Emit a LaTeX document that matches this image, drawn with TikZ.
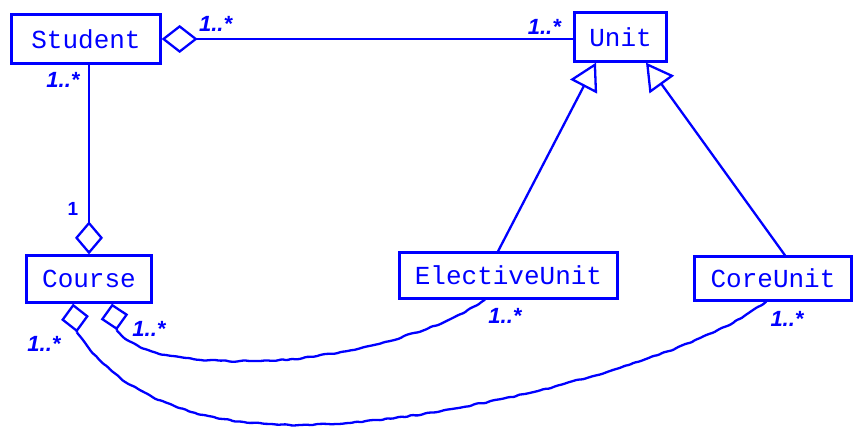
\documentclass[tikz,border=0pt]{standalone}
\usepackage{fontspec}
\newfontfamily\classfont{Liberation Mono}
\newfontfamily\multfont{Liberation Sans}
\usepackage{tikz}
\usetikzlibrary{arrows.meta,calc,decorations.pathmorphing}

\begin{document}
\begin{tikzpicture}[x=1pt,y=1pt,
    umlblue/.style={draw=blue,line width=2.3pt},
    class/.style={umlblue,text=blue,inner sep=0pt,font=\classfont\fontsize{26}{30}\selectfont},
    mult/.style={text=blue,inner sep=0pt,font=\multfont\bfseries\itshape\fontsize{22}{26}\selectfont},
    agg/.style={umlblue,{Diamond[open,length=#1,width=28pt]}-},
    agg/.default=36pt,
    gen/.style={umlblue,-{Triangle[open,length=27pt,width=30pt]}},
    wobbly/.style={umlblue,decorate,decoration={random steps,segment length=5pt,amplitude=0.8pt},rounded corners=1.5pt}]
    \useasboundingbox (0,0) rectangle (853,427);
    \pgfmathsetseed{7}

    % classes
    \node[class,minimum width=149pt,minimum height=49pt] (student) at (86,388) {Student};
    \node[class,minimum width=92pt,minimum height=49pt] (unit) at (620.5,390) {Unit};
    \node[class,minimum width=125pt,minimum height=47pt] (course) at (89,148) {Course};
    \node[class,minimum width=218pt,minimum height=46pt] (elective) at (508.5,151.5) {ElectiveUnit};
    \node[class,minimum width=157pt,minimum height=44pt] (core) at (773,148.5) {CoreUnit};

    % associations
    \draw[agg] (student.east) -- (student.east -| unit.west);
    \draw[agg=33pt] (course.north) -- (course.north |- student.south);
    \draw[gen] ($ (elective.north) + (-10.5,0) $) -- ($ (unit.south) + (-24.5,0) $);
    \draw[gen] ($ (core.north) + (12,0) $) -- ($ (unit.south) + (25.5,0) $);

    \coordinate (cl) at ($ (course.south) + (-16,0) $);
    \coordinate (cr) at ($ (course.south) + (23,0) $);
    \draw[agg=29pt] (cl) -- ++(4,-29) coordinate (clend);
    \draw[agg=27pt] (cr) -- ++(5,-27) coordinate (crend);
    \draw[wobbly] (crend) .. controls (140,70) and (190,65) .. (260,66)
      .. controls (340,68) and (440,95) .. ($ (elective.south) + (-23.5,0) $);
    \draw[wobbly] (clend) .. controls (122,28) and (200,2) .. (300,2)
      .. controls (430,2) and (680,60) .. ($ (core.south) + (-7,0) $);

    % multiplicities
    \node[mult] (msu) at ($ (student.east) + (54,15) $) {1..*};
    \node[mult] (mus) at ($ (unit.west) + (-29,10) $) {1..*};
    \node[mult] (msc) at ($ (student.south) + (-23,-15) $) {1..*};
    \node[mult,font=\multfont\bfseries\fontsize{19}{22}\selectfont] (mcs) at ($ (course.north) + (-16,45) $) {1};
    \node[mult] (mcc) at ($ (course.south) + (-45,-40) $) {1..*};
    \node[mult] (mce) at ($ (course.south) + (60,-25) $) {1..*};
    \node[mult] (mec) at ($ (elective.south) + (-3.5,-16) $) {1..*};
    \node[mult] (mcoc) at ($ (core.south) + (14,-17) $) {1..*};

  \end{tikzpicture}
\end{document}
